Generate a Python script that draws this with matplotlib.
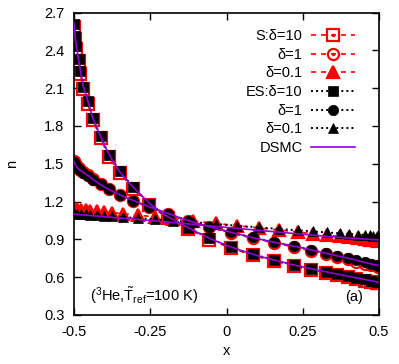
import matplotlib
matplotlib.use("Agg")
import matplotlib.pyplot as plt
from matplotlib.lines import Line2D
from matplotlib.legend_handler import HandlerTuple

plt.rcParams['font.family'] = ['Liberation Sans', 'DejaVu Sans']
plt.rcParams['mathtext.fontset'] = 'custom'
plt.rcParams['mathtext.rm'] = 'Liberation Sans'
plt.rcParams['mathtext.it'] = 'Liberation Sans:italic'

# ---- data ----
x_grid = [-0.499, -0.497, -0.493, -0.485, -0.479, -0.469, -0.455, -0.438, -0.413,
          -0.386, -0.349, -0.305, -0.253, -0.192, -0.126, -0.056, 0.015, 0.086,
          0.157, 0.220, 0.278, 0.325, 0.362, 0.398, 0.425, 0.453, 0.475, 0.492, 0.498]
es_d10 = [2.605, 2.512, 2.433, 2.333, 2.234, 2.110, 1.996, 1.864, 1.717,
          1.572, 1.439, 1.312, 1.182, 1.079, 0.992, 0.908, 0.838, 0.781,
          0.735, 0.697, 0.667, 0.643, 0.626, 0.608, 0.595, 0.582, 0.572, 0.564, 0.560]
s_d10 = [2.585, 2.492, 2.413, 2.313, 2.215, 2.092, 1.978, 1.847, 1.701,
         1.557, 1.425, 1.299, 1.170, 1.068, 0.982, 0.899, 0.830, 0.773,
         0.727, 0.689, 0.659, 0.635, 0.617, 0.599, 0.586, 0.573, 0.563, 0.555, 0.551]
es_d1 = [1.515, 1.500, 1.482, 1.462, 1.447, 1.430, 1.405, 1.373, 1.336,
         1.298, 1.253, 1.206, 1.155, 1.101, 1.048, 1.000, 0.955, 0.915,
         0.878, 0.848, 0.817, 0.790, 0.771, 0.751, 0.733, 0.717, 0.705, 0.697, 0.692]
s_d1 = [1.525, 1.508, 1.490, 1.469, 1.453, 1.435, 1.409, 1.376, 1.338,
        1.299, 1.253, 1.205, 1.153, 1.098, 1.045, 0.996, 0.950, 0.909,
        0.871, 0.840, 0.808, 0.781, 0.761, 0.741, 0.723, 0.706, 0.694, 0.686, 0.681]

x_tri = [-0.500, -0.489, -0.477, -0.462, -0.446, -0.426, -0.403, -0.374, -0.339,
         -0.290, -0.234, -0.175, -0.110, -0.036, 0.036, 0.107, 0.172, 0.233,
         0.284, 0.331, 0.371, 0.403, 0.431, 0.453, 0.469, 0.480, 0.492, 0.498]
es_d01 = [1.108, 1.105, 1.102, 1.099, 1.096, 1.092, 1.088, 1.083, 1.077,
          1.069, 1.059, 1.048, 1.036, 1.022, 1.008, 0.995, 0.983, 0.972,
          0.963, 0.955, 0.948, 0.943, 0.938, 0.935, 0.932, 0.930, 0.928, 0.926]
s_d01 = [1.140, 1.138, 1.135, 1.132, 1.128, 1.124, 1.119, 1.112, 1.104,
         1.092, 1.078, 1.063, 1.046, 1.027, 1.008, 0.990, 0.974, 0.958,
         0.945, 0.933, 0.923, 0.915, 0.908, 0.903, 0.899, 0.896, 0.893, 0.891]

x_dsmc = [-0.5, -0.495, -0.49, -0.48, -0.47, -0.46, -0.45, -0.44, -0.42, -0.4,
          -0.375, -0.35, -0.325, -0.3, -0.25, -0.2, -0.15, -0.1, -0.05, 0.0,
          0.05, 0.1, 0.15, 0.2, 0.25, 0.3, 0.35, 0.4, 0.45, 0.475, 0.49, 0.5]
dsmc_d10 = [2.62, 2.48, 2.40, 2.25, 2.12, 2.04, 1.96, 1.875, 1.755, 1.645,
            1.53, 1.435, 1.365, 1.30, 1.18, 1.09, 1.024, 0.961, 0.902, 0.853,
            0.81, 0.772, 0.74, 0.709, 0.681, 0.656, 0.631, 0.607, 0.583, 0.572, 0.564, 0.558]
dsmc_d1 = [1.52, 1.49, 1.47, 1.449, 1.432, 1.416, 1.40, 1.38, 1.345, 1.315,
           1.283, 1.254, 1.228, 1.203, 1.156, 1.113, 1.07, 1.03, 0.996, 0.965,
           0.935, 0.906, 0.881, 0.857, 0.832, 0.804, 0.777, 0.75, 0.719, 0.705, 0.697, 0.692]
dsmc_d01 = [1.10, 1.099, 1.098, 1.096, 1.094, 1.092, 1.09, 1.088, 1.084, 1.08,
            1.075, 1.07, 1.065, 1.06, 1.05, 1.039, 1.028, 1.017, 1.006, 0.995,
            0.984, 0.973, 0.962, 0.951, 0.94, 0.93, 0.92, 0.911, 0.903, 0.899, 0.897, 0.895]

x_ticks = [-0.5, -0.25, 0, 0.25, 0.5]
x_tick_labels = ["-0.5", "-0.25", "0", "0.25", "0.5"]
y_ticks = [0.3, 0.6, 0.9, 1.2, 1.5, 1.8, 2.1, 2.4, 2.7]
y_tick_labels = ["0.3", "0.6", "0.9", "1.2", "1.5", "1.8", "2.1", "2.4", "2.7"]

labels = ["S:δ=10", "δ=1", "δ=0.1", "ES:δ=10", "δ=1", "δ=0.1", "DSMC"]

RED = '#ff0000'
PURPLE = '#9400d3'
FS = 10.5

fig = plt.figure(figsize=(3.99, 3.64), dpi=100)
ax = fig.add_axes([74/399, 1-315/364, 305/399, 302.5/364])

dash = (0, (3.0, 3.0))
dot = (0, (1.0, 1.6))

# S model (red, open markers, dashed)
hs = []
for xs, ys, m, ms, mfc in [(x_grid, s_d10, 's', 8.0, 'none'),
                           (x_grid, s_d1, 'o', 8.0, 'none'),
                           (x_tri, s_d01, '^', 8.0, RED)]:
    l, = ax.plot(xs, ys, color=RED, linestyle=dash, lw=1.2, marker=m, ms=ms,
                 mfc=mfc, mec=RED, mew=1.6, zorder=2)
    hs.append(l)

# ES model (black, filled, dotted)
he = []
for xs, ys, m, ms in [(x_grid, es_d10, 's', 7.5),
                      (x_grid, es_d1, 'o', 7.5),
                      (x_tri, es_d01, '^', 6.5)]:
    l, = ax.plot(xs, ys, color='black', linestyle=dot, lw=1.4, marker=m, ms=ms,
                 mfc='black', mec='black', mew=0.5, zorder=3)
    he.append(l)

# DSMC
hd = None
for ys in [dsmc_d10, dsmc_d1, dsmc_d01]:
    hd, = ax.plot(x_dsmc, ys, color=PURPLE, lw=1.2, zorder=4)

ax.set_xlim(-0.5, 0.5)
ax.set_ylim(0.3, 2.7)
ax.set_xticks(x_ticks)
ax.set_xticklabels(x_tick_labels)
ax.set_yticks(y_ticks)
ax.set_yticklabels(y_tick_labels)
ax.tick_params(direction='in', top=True, right=True, length=5, width=1,
               labelsize=FS)
ax.tick_params(axis='x', pad=7)
ax.tick_params(axis='y', pad=7)
ax.minorticks_off()
for sp in ax.spines.values():
    sp.set_linewidth(1.2)

ax.set_xlabel("x", fontsize=FS, labelpad=4)
ax.set_ylabel("n", fontsize=FS, labelpad=18)

# legend handles with centre dots for open markers
dot_h = Line2D([], [], ls='none', marker='o', ms=1.5, color=RED)
handles = [(hs[0], dot_h), (hs[1], dot_h), hs[2], he[0], he[1], he[2], hd]
leg = ax.legend(handles, labels, loc='upper right', bbox_to_anchor=(0.921, 0.945),
                frameon=False, markerfirst=False, fontsize=FS, handlelength=3.0,
                handletextpad=0.6, labelspacing=0.32, borderpad=0, borderaxespad=0,
                numpoints=1, handler_map={tuple: HandlerTuple(ndivide=1, pad=0)})

ax.text(0.052, 0.045, r'($^3$He,$\tilde{\mathrm{T}}_{\mathrm{ref}}$=100 K)',
        transform=ax.transAxes, fontsize=FS, ha='left', va='baseline')
ax.text(0.947, 0.045, "(a)", transform=ax.transAxes, fontsize=FS,
        ha='right', va='baseline')

fig.savefig("out.png", dpi=100)
